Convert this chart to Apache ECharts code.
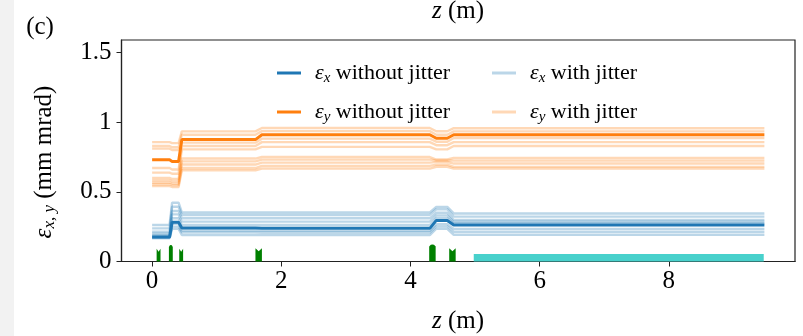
<!DOCTYPE html>
<html><head><meta charset="utf-8">
<script src="https://cdn.jsdelivr.net/npm/echarts@6/dist/echarts.min.js"></script>
<style>html,body{margin:0;padding:0;background:#fff}#c{width:803px;height:336px}</style>
</head><body><div id="c"></div>
<script>
// z knots (m) shared by all emittance curves
const zKnots = [0, 0.27, 0.31, 0.41, 0.46, 1.60, 1.70, 4.30, 4.40, 4.57, 4.67, 9.48];
// eps_x without jitter (mm mrad)
const epsXMain = [0.175, 0.175, 0.282, 0.282, 0.240, 0.240, 0.238, 0.238, 0.295, 0.295, 0.262, 0.262];
// eps_y without jitter
const epsYMain = [0.730, 0.730, 0.718, 0.718, 0.875, 0.875, 0.910, 0.910, 0.885, 0.885, 0.910, 0.910];
// eps_x with jitter (several runs)
const epsXJitter = [
  [0.262, 0.262, 0.422, 0.422, 0.352, 0.352, 0.352, 0.352, 0.392, 0.392, 0.345, 0.345],
  [0.238, 0.238, 0.393, 0.393, 0.334, 0.334, 0.334, 0.334, 0.375, 0.375, 0.322, 0.322],
  [0.214, 0.214, 0.362, 0.362, 0.310, 0.310, 0.310, 0.310, 0.350, 0.350, 0.298, 0.298],
  [0.200, 0.200, 0.338, 0.338, 0.286, 0.286, 0.286, 0.286, 0.330, 0.330, 0.285, 0.285],
  [0.190, 0.190, 0.310, 0.310, 0.262, 0.262, 0.262, 0.262, 0.310, 0.310, 0.274, 0.274],
  [0.180, 0.180, 0.270, 0.270, 0.222, 0.222, 0.220, 0.220, 0.268, 0.268, 0.234, 0.234],
  [0.170, 0.170, 0.250, 0.250, 0.210, 0.210, 0.208, 0.208, 0.252, 0.252, 0.214, 0.214],
  [0.166, 0.166, 0.234, 0.234, 0.190, 0.190, 0.190, 0.190, 0.235, 0.235, 0.192, 0.192]
];
// eps_y with jitter (several runs)
const epsYJitter = [
  [0.857, 0.857, 0.850, 0.850, 0.934, 0.934, 0.958, 0.958, 0.935, 0.935, 0.957, 0.957],
  [0.829, 0.829, 0.820, 0.820, 0.910, 0.910, 0.936, 0.936, 0.910, 0.910, 0.934, 0.934],
  [0.810, 0.810, 0.800, 0.800, 0.853, 0.853, 0.882, 0.882, 0.860, 0.860, 0.886, 0.886],
  [0.671, 0.671, 0.660, 0.660, 0.829, 0.829, 0.857, 0.857, 0.835, 0.835, 0.857, 0.857],
  [0.638, 0.638, 0.630, 0.630, 0.805, 0.805, 0.823, 0.823, 0.805, 0.805, 0.829, 0.829],
  [0.600, 0.600, 0.592, 0.592, 0.739, 0.739, 0.750, 0.750, 0.732, 0.732, 0.743, 0.743],
  [0.583, 0.583, 0.575, 0.575, 0.719, 0.719, 0.731, 0.731, 0.725, 0.725, 0.724, 0.724],
  [0.567, 0.567, 0.560, 0.560, 0.696, 0.696, 0.710, 0.710, 0.714, 0.714, 0.703, 0.703],
  [0.555, 0.555, 0.548, 0.548, 0.671, 0.671, 0.686, 0.686, 0.695, 0.695, 0.679, 0.679],
  [0.541, 0.541, 0.535, 0.535, 0.655, 0.655, 0.667, 0.667, 0.680, 0.680, 0.667, 0.667]
];
// beamline elements: [zStart, zEnd, height, shape(0 = notched top, 1 = rounded top)]
const magnets = [
  [0.070, 0.130, 0.092, 0],
  [0.260, 0.320, 0.118, 1],
  [0.420, 0.480, 0.092, 0],
  [1.600, 1.700, 0.095, 0],
  [4.290, 4.390, 0.122, 1],
  [4.600, 4.700, 0.095, 0]
];
// undulator section: [zStart, zEnd, height]
const undulator = [[4.98, 9.47, 0.053]];
const xTicks = [0, 2, 4, 6, 8];
const yTicks = [0, 0.5, 1, 1.5];

const SERIF = "'Liberation Serif','DejaVu Serif',serif";
const mkRich = (fs, sfs) => ({
  e: {fontFamily: SERIF, fontStyle: 'italic', fontSize: fs, color: '#000', lineHeight: fs + 4},
  s: {fontFamily: SERIF, fontStyle: 'italic', fontSize: sfs, color: '#000', lineHeight: 12, verticalAlign: 'bottom'},
  t: {fontFamily: SERIF, fontSize: fs, color: '#000', lineHeight: fs + 4}
});
const richLegend = mkRich(22, 15);
const richAxis = mkRich(25, 17);
const legendRich = {
  'εx without jitter': '{e|ε}{s|x}{t| without jitter}',
  'εy without jitter': '{e|ε}{s|y}{t| without jitter}',
  'εx with jitter': '{e|ε}{s|x}{t| with jitter}',
  'εy with jitter': '{e|ε}{s|y}{t| with jitter}'
};
const pts = ys => zKnots.map((z, i) => [z, ys[i]]);

const series = [];
epsXJitter.forEach(ys => series.push({
  name: 'εx with jitter', type: 'line', data: pts(ys), showSymbol: false, color: 'rgba(31,119,180,0.3)',
  lineStyle: {width: 2.4}, z: 2, silent: true
}));
epsYJitter.forEach(ys => series.push({
  name: 'εy with jitter', type: 'line', data: pts(ys), showSymbol: false, color: 'rgba(255,127,14,0.3)',
  lineStyle: {width: 2.4}, z: 2, silent: true
}));
series.push({name: 'εx without jitter', type: 'line', data: pts(epsXMain), showSymbol: false, color: '#1f77b4', lineStyle: {width: 3}, z: 3});
series.push({name: 'εy without jitter', type: 'line', data: pts(epsYMain), showSymbol: false, color: '#ff7f0e', lineStyle: {width: 3}, z: 3});
series.push({
  type: 'custom', data: magnets, z: 4, silent: true,
  renderItem: (params, api) => {
    const a = api.coord([api.value(0), 0]);
    const b = api.coord([api.value(1), api.value(2)]);
    const x0 = a[0], x1 = b[0], y0 = a[1], y1 = b[1];
    const w = x1 - x0;
    let points;
    if (api.value(3) === 0) {
      points = [[x0, y0], [x0, y1], [x0 + w / 2, y1 + 3], [x1, y1], [x1, y0]];
    } else {
      points = [[x0, y0], [x0, y1 + 2], [x0 + w * 0.25, y1 + 0.3], [x0 + w / 2, y1], [x0 + w * 0.75, y1 + 0.3], [x1, y1 + 2], [x1, y0]];
    }
    return {type: 'polygon', shape: {points}, style: {fill: '#008000'}};
  }
});
series.push({
  type: 'custom', data: undulator, z: 4, silent: true,
  renderItem: (params, api) => {
    const a = api.coord([api.value(0), 0]);
    const b = api.coord([api.value(1), api.value(2)]);
    return {type: 'rect', shape: {x: a[0], y: b[1], width: b[0] - a[0], height: a[1] - b[1]}, style: {fill: '#48d1cc'}};
  }
});

const mkLegend = (name, left, top) => ({
  left, top, data: [name], icon: 'rect', itemWidth: 24, itemHeight: 3, padding: 0, selectedMode: false,
  formatter: n => legendRich[n],
  textStyle: {rich: richLegend, padding: [0, 0, 0, 9]}
});

const chart = echarts.init(document.getElementById('c'), null, {renderer: 'canvas'});
chart.setOption({
  animation: false,
  backgroundColor: '#fff',
  grid: {left: 121.5, right: 8, top: 40, bottom: 74.5, show: true, borderColor: '#222', borderWidth: 1.2, backgroundColor: 'transparent'},
  xAxis: {
    type: 'value', min: -0.474, max: 9.954,
    axisLine: {onZero: false, lineStyle: {color: '#222', width: 1.2}},
    axisTick: {show: true, inside: false, length: 5, customValues: xTicks, lineStyle: {color: '#222'}},
    axisLabel: {customValues: xTicks, fontFamily: SERIF, fontSize: 25, color: '#000', margin: 7},
    splitLine: {show: false}
  },
  yAxis: {
    type: 'value', min: 0, max: 1.59,
    axisLine: {show: true, onZero: false, lineStyle: {color: '#222', width: 1.2}},
    axisTick: {show: true, inside: false, length: 5, customValues: yTicks, lineStyle: {color: '#222'}},
    axisLabel: {customValues: yTicks, fontFamily: SERIF, fontSize: 25, color: '#000', margin: 10},
    splitLine: {show: false}
  },
  legend: [
    mkLegend('εx without jitter', 277, 62),
    mkLegend('εx with jitter', 492, 62),
    mkLegend('εy without jitter', 277, 101),
    mkLegend('εy with jitter', 492, 101)
  ],
  graphic: [
    {type: 'rect', left: 0, top: 0, shape: {width: 14, height: 336}, style: {fill: '#f2f2f2'}, silent: true},
    {type: 'text', x: 40, y: 27, style: {text: '(c)', font: "25px 'Liberation Serif'", fill: '#000', textAlign: 'center', textVerticalAlign: 'middle'}},
    {type: 'text', x: 458, y: 11, style: {text: '{e|z}{t| (m)}', rich: richAxis, textAlign: 'center', textVerticalAlign: 'middle'}},
    {type: 'text', x: 458, y: 321, style: {text: '{e|z}{t| (m)}', rich: richAxis, textAlign: 'center', textVerticalAlign: 'middle'}},
    {type: 'text', x: 44, y: 162, rotation: Math.PI / 2, style: {text: '{e|ε}{s|x, y}{t| (mm mrad)}', rich: richAxis, textAlign: 'center', textVerticalAlign: 'middle'}}
  ],
  series
});
</script>
</body></html>
